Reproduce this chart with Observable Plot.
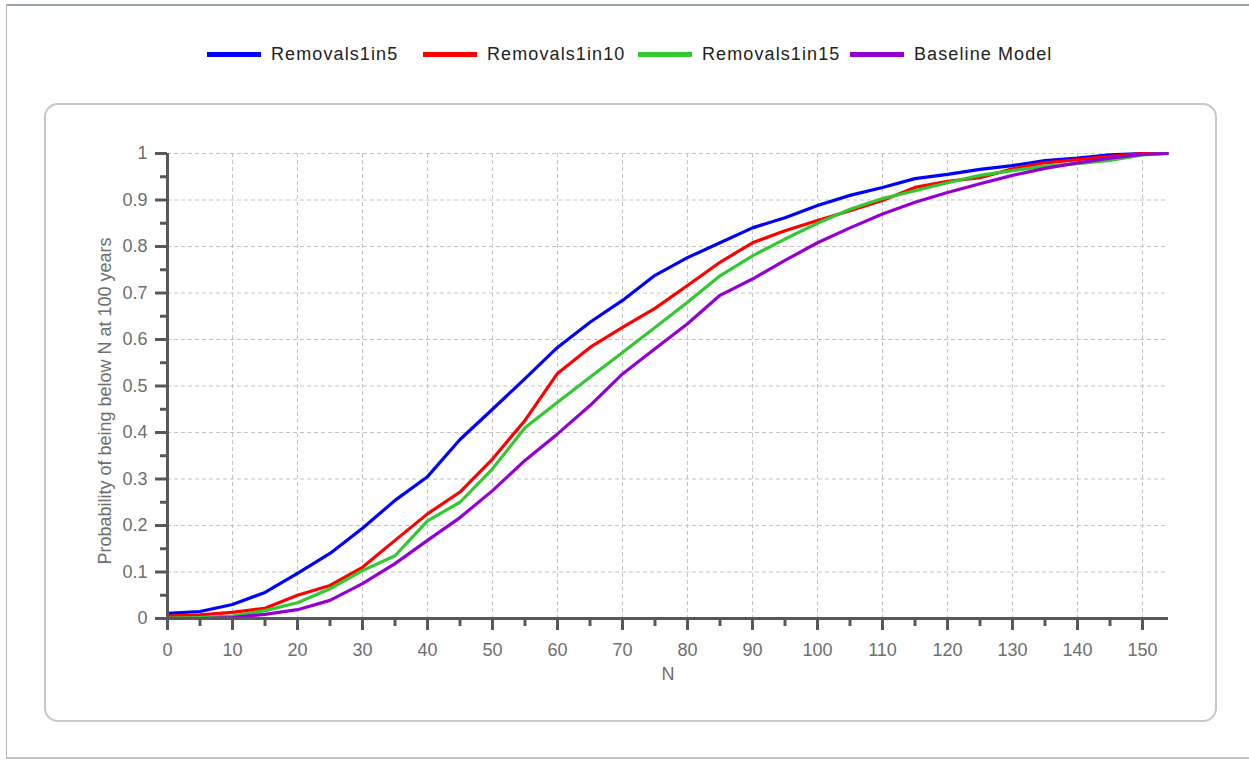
<!DOCTYPE html>
<html>
<head>
<meta charset="utf-8">
<script src="https://cdn.jsdelivr.net/npm/d3@7"></script>
<script src="https://cdn.jsdelivr.net/npm/@observablehq/plot@0.6"></script>
<style>
  html, body { margin: 0; padding: 0; background: #ffffff; }
  #stage { position: relative; width: 1249px; height: 760px; overflow: hidden; font-family: "Liberation Sans", Arial, sans-serif; }
  .frame-top { position: absolute; left: 6px; top: 4px; width: 1243px; height: 2px; background: #97a897; }
  .frame-left { position: absolute; left: 6px; top: 4px; width: 1px; height: 755px; background: #b8b4bc; }
  .frame-bottom { position: absolute; left: 6px; top: 757px; width: 1243px; height: 2px; background: #c4c0c8; }
  .panel { position: absolute; left: 44px; top: 103px; width: 1173px; height: 619px; box-sizing: border-box; border: 2px solid #c8c6cc; border-radius: 14px; }
  #legend { position: absolute; left: 0; top: 42px; width: 1249px; height: 24px; font-size: 18px; color: #222; letter-spacing: 1.1px; }
  .sw { position: absolute; top: 10px; width: 54px; height: 5px; }
  .lt { position: absolute; top: 0; line-height: 24px; white-space: nowrap; }
  #chart { position: absolute; left: 0; top: 0; }
</style>
</head>
<body>
<div id="stage">
  <div class="frame-top"></div>
  <div class="frame-left"></div>
  <div class="frame-bottom"></div>
  <div class="panel"></div>
  <div id="legend"></div>
  <div id="chart"></div>
</div>
<script>
// ---- Data ----
const nValues = [0,5,10,15,20,25,30,35,40,45,50,55,60,65,70,75,80,85,90,95,100,105,110,115,120,125,130,135,140,145,150,154];
const removals1in5 = [0.011,0.015,0.03,0.056,0.097,0.14,0.194,0.254,0.305,0.385,0.45,0.516,0.583,0.637,0.684,0.738,0.776,0.808,0.84,0.862,0.888,0.91,0.927,0.946,0.955,0.966,0.974,0.985,0.99,0.997,1,1];
const removals1in10 = [0.005,0.008,0.013,0.022,0.05,0.071,0.11,0.168,0.225,0.272,0.343,0.426,0.527,0.583,0.626,0.667,0.716,0.766,0.808,0.834,0.856,0.877,0.899,0.927,0.94,0.948,0.967,0.98,0.987,0.994,1,1];
const removals1in15 = [0.001,0.002,0.005,0.017,0.034,0.064,0.103,0.135,0.21,0.25,0.322,0.41,0.465,0.519,0.572,0.626,0.68,0.737,0.78,0.816,0.85,0.88,0.903,0.92,0.937,0.953,0.963,0.973,0.978,0.985,0.997,1];
const baselineModel = [0,0,0.002,0.009,0.019,0.039,0.075,0.118,0.168,0.217,0.275,0.34,0.397,0.458,0.526,0.58,0.634,0.695,0.73,0.77,0.808,0.84,0.87,0.895,0.916,0.935,0.953,0.968,0.98,0.99,0.998,1];

const seriesNames = ["Removals1in5", "Removals1in10", "Removals1in15", "Baseline Model"];
const seriesColors = ["#0000ff", "#ff0000", "#32c832", "#9400d3"];
const seriesValues = [removals1in5, removals1in10, removals1in15, baselineModel];

const xTicks = [0,10,20,30,40,50,60,70,80,90,100,110,120,130,140,150];
const xMinorTicks = [5,15,25,35,45,55,65,75,85,95,105,115,125,135,145];
const yTicks = [0,0.1,0.2,0.3,0.4,0.5,0.6,0.7,0.8,0.9,1];
const yMinorTicks = [0.05,0.15,0.25,0.35,0.45,0.55,0.65,0.75,0.85,0.95];

const xTitle = "N";
const yTitle = "Probability of being below N at 100 years";

// ---- Build table ----
const rows = [];
seriesNames.forEach((name, i) => {
  nValues.forEach((n, j) => rows.push({series: name, n, p: seriesValues[i][j]}));
});

// ---- Legend (layout positions) ----
const legendSwatchLeft = [207, 423, 638, 850];
const legend = document.getElementById("legend");
seriesNames.forEach((name, i) => {
  const sw = document.createElement("span");
  sw.className = "sw";
  sw.style.left = legendSwatchLeft[i] + "px";
  sw.style.background = seriesColors[i];
  const t = document.createElement("span");
  t.className = "lt";
  t.style.left = (legendSwatchLeft[i] + 64) + "px";
  t.textContent = name;
  legend.appendChild(sw);
  legend.appendChild(t);
});

// ---- Chart ----
const axisColor = "#585858";
const labelColor = "#6e6e6e";
const gridColor = "#c4c2c8";

const chart = Plot.plot({
  width: 1249,
  height: 760,
  marginLeft: 167,
  marginRight: 81,
  marginTop: 153,
  marginBottom: 142,
  style: {background: "transparent", fontFamily: "'Liberation Sans', Arial, sans-serif", overflow: "visible"},
  x: {domain: [0, 154], axis: null},
  y: {domain: [0, 1], axis: null},
  color: {domain: seriesNames, range: seriesColors},
  marks: [
    Plot.ruleX(xTicks.slice(1), {stroke: gridColor, strokeDasharray: "4,3", strokeWidth: 1}),
    Plot.ruleY(yTicks.slice(1), {stroke: gridColor, strokeDasharray: "4,3", strokeWidth: 1}),
    Plot.line(rows, {x: "n", y: "p", z: "series", stroke: "series", strokeWidth: 3.2, strokeLinejoin: "round", strokeLinecap: "butt"}),
    Plot.ruleY([0], {stroke: axisColor, strokeWidth: 3}),
    Plot.ruleX([0], {stroke: axisColor, strokeWidth: 3}),
    Plot.axisX(xTicks, {tickSize: 12, tickPadding: 13, stroke: axisColor, strokeWidth: 3, fill: labelColor, fontSize: 18, label: null, tickFormat: d => String(d)}),
    Plot.axisX(xMinorTicks, {tickSize: 8, stroke: axisColor, strokeWidth: 3, text: null, label: null}),
    Plot.axisY(yTicks, {tickSize: 12, tickPadding: 8, stroke: axisColor, strokeWidth: 3, fill: labelColor, fontSize: 18, label: null, tickFormat: d => String(d)}),
    Plot.axisY(yMinorTicks, {tickSize: 7, stroke: axisColor, strokeWidth: 3, text: null, label: null}),
    Plot.text([xTitle], {frameAnchor: "bottom", dy: 61, fill: labelColor, fontSize: 18}),
    Plot.text([yTitle], {frameAnchor: "left", dx: -62, dy: 15, rotate: -90, textAnchor: "middle", fill: labelColor, fontSize: 18})
  ]
});
document.getElementById("chart").appendChild(chart);
</script>
</body>
</html>
